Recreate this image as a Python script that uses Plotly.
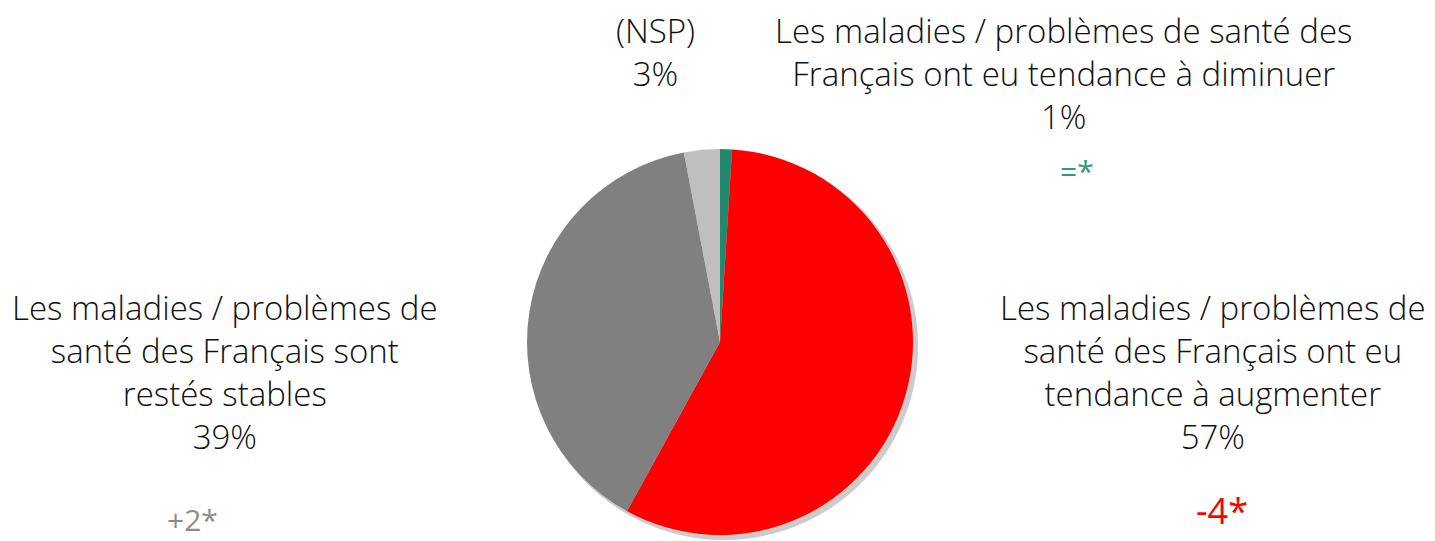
import plotly.graph_objects as go

labels = [
    "Les maladies / problèmes de santé des<br>Français ont eu tendance à diminuer",
    "Les maladies / problèmes de<br>santé des Français ont eu<br>tendance à augmenter",
    "Les maladies / problèmes de<br>santé des Français sont<br>restés stables",
    "(NSP)",
]
values = [1, 57, 39, 3]
slice_colors = ["#22896E", "#FF0000", "#808080", "#BFBFBF"]
deltas = ["=*", "-4*", "+2*", ""]
delta_colors = ["#2E9A7C", "#FF0000", "#8C8C8C", "#8C8C8C"]

W, H = 1435, 541
FONT = "Open Sans"

fig = go.Figure()

# soft shadow under the pie
fig.add_trace(go.Pie(
    values=[1], marker=dict(colors=["#CCCCCC"], line=dict(width=0)),
    textinfo="none", hoverinfo="skip", showlegend=False,
    domain=dict(x=[530 / W, 918 / W], y=[1 / H, 389 / H]),
))
fig.add_trace(go.Pie(
    values=values, labels=labels, sort=False, direction="clockwise", rotation=0,
    marker=dict(colors=slice_colors, line=dict(width=0)),
    textinfo="none", showlegend=False,
    domain=dict(x=[527 / W, 913 / W], y=[6 / H, 392 / H]),
))

# label positions (page px, center)
label_pos = [(1063, 74), (1213, 372), (225, 372), (655, 52)]
delta_pos = [(1077, 170), (1222, 510), (192, 519), None]
delta_size = [30, 36, 30, 30]

for i, (lab, v) in enumerate(zip(labels, values)):
    x, y = label_pos[i]
    fig.add_annotation(
        x=x / W, y=1 - y / H, xref="paper", yref="paper",
        text=f"{lab}<br>{v}%", showarrow=False, align="center",
        xanchor="center", yanchor="middle",
        font=dict(family=FONT, size=33, color="#111111", weight=300),
    )
    if delta_pos[i] is not None and deltas[i]:
        dx, dy = delta_pos[i]
        fig.add_annotation(
            x=dx / W, y=1 - dy / H, xref="paper", yref="paper",
            text=deltas[i], showarrow=False,
            xanchor="center", yanchor="middle",
            font=dict(family=FONT, size=delta_size[i], color=delta_colors[i], weight=400),
        )

fig.update_layout(
    width=W, height=H, margin=dict(l=0, r=0, t=0, b=0),
    paper_bgcolor="white", plot_bgcolor="white",
)
fig.write_html(
    "out.html",
    config={"displayModeBar": False},
    post_script="document.body.style.margin='0';document.body.style.overflow='hidden';",
)
